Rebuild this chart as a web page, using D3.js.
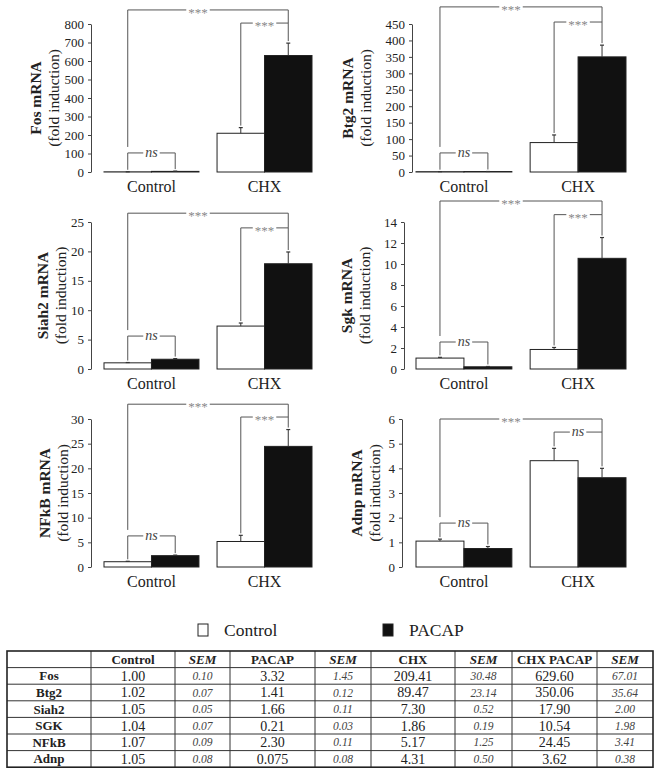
<!DOCTYPE html>
<html>
<head>
<meta charset="utf-8">
<script src="https://cdn.jsdelivr.net/npm/d3@7"></script>
<style>
  html, body { margin: 0; padding: 0; background: #fff; }
  svg { display: block; }
  svg text { font-family: "Liberation Serif", "Times New Roman", "DejaVu Serif", serif; fill: #222; }
</style>
</head>
<body>
<svg id="chart" width="663" height="776" font-family="Liberation Serif, serif"></svg>
<script>
// ---------------- DATA ----------------
const genes = ["Fos", "Btg2", "Siah2", "SGK", "NFkB", "Adnp"];
const panelTitles = ["Fos mRNA", "Btg2 mRNA", "Siah2 mRNA", "Sgk mRNA", "NFkB mRNA", "Adnp mRNA"];
const groups = ["Control", "CHX"];
const treatments = ["Control", "PACAP"];

const controlVals   = [1.00, 1.02, 1.05, 1.04, 1.07, 1.05];
const controlSem    = [0.10, 0.07, 0.05, 0.07, 0.09, 0.08];
const pacapVals     = [3.32, 1.41, 1.66, 0.21, 2.30, 0.75];
const pacapSem      = [1.45, 0.12, 0.11, 0.03, 0.11, 0.08];
const chxVals       = [209.41, 89.47, 7.30, 1.86, 5.17, 4.31];
const chxSem        = [30.48, 23.14, 0.52, 0.19, 1.25, 0.50];
const chxPacapVals  = [629.60, 350.06, 17.90, 10.54, 24.45, 3.62];
const chxPacapSem   = [67.01, 35.64, 2.00, 1.98, 3.41, 0.38];

// table cell text (as printed in the table)
const tableHeaders   = ["", "Control", "SEM", "PACAP", "SEM", "CHX", "SEM", "CHX PACAP", "SEM"];
const tableControl   = ["1.00", "1.02", "1.05", "1.04", "1.07", "1.05"];
const tableControlSem= ["0.10", "0.07", "0.05", "0.07", "0.09", "0.08"];
const tablePacap     = ["3.32", "1.41", "1.66", "0.21", "2.30", "0.075"];
const tablePacapSem  = ["1.45", "0.12", "0.11", "0.03", "0.11", "0.08"];
const tableChx       = ["209.41", "89.47", "7.30", "1.86", "5.17", "4.31"];
const tableChxSem    = ["30.48", "23.14", "0.52", "0.19", "1.25", "0.50"];
const tableChxPacap  = ["629.60", "350.06", "17.90", "10.54", "24.45", "3.62"];
const tableChxPacapSem = ["67.01", "35.64", "2.00", "1.98", "3.41", "0.38"];

// y axis tick settings
const yMax  = [800, 450, 25, 14, 30, 6];
const yStep = [100, 50, 5, 2, 5, 1];

// significance annotations (labels and bracket heights in data units)
const sigTopLabel  = ["***", "***", "***", "***", "***", "***"];
const sigChxLabel  = ["***", "***", "***", "***", "***", "ns"];
const sigCtrlLabel = ["ns", "ns", "ns", "ns", "ns", "ns"];
const bracketTop  = [876, 502, 26.5, 16.0, 33.0, 6.0];
const bracketChx  = [805, 456, 24.0, 14.7, 30.4, 5.47];
const bracketCtrl = [103, 58, 5.6, 2.57, 6.3, 1.78];

// ---------------- LAYOUT ----------------
const FONT = '"Liberation Serif", "Times New Roman", "DejaVu Serif", serif';
const rowsY   = [[172, 24], [369, 222], [567, 419]];
const axisX   = [91, 412, 91, 404, 91, 402];
const barRange = [[104, 312], [416, 626]];
const titleX  = [36, 348, 43, 347, 45, 357];

const svg = d3.select("#chart");
function txt(sel) { return sel.style("font-family", FONT); }

genes.forEach((g, i) => {
  const row = Math.floor(i / 2), col = i % 2;
  const [y0, y1] = rowsY[row];
  const y = d3.scaleLinear().domain([0, yMax[i]]).range([y0, y1]);
  const xg = d3.scaleBand().domain(groups).range(barRange[col]).paddingInner(0.16).paddingOuter(0);
  const xs = d3.scaleBand().domain(treatments).range([0, xg.bandwidth()]).padding(0);

  const bars = [
    { grp: "Control", tr: "Control", v: controlVals[i],  e: controlSem[i] },
    { grp: "Control", tr: "PACAP",   v: pacapVals[i],    e: pacapSem[i] },
    { grp: "CHX",     tr: "Control", v: chxVals[i],      e: chxSem[i] },
    { grp: "CHX",     tr: "PACAP",   v: chxPacapVals[i], e: chxPacapSem[i] }
  ];
  bars.forEach(b => {
    b.x = xg(b.grp) + xs(b.tr);
    b.w = xs.bandwidth();
    b.cx = b.x + b.w / 2;
    b.top = y(b.v + b.e);
  });

  const gp = svg.append("g");

  // y axis
  const ax = gp.append("g")
    .attr("transform", `translate(${axisX[i]},0)`)
    .call(d3.axisLeft(y)
      .tickValues(d3.range(0, yMax[i] + yStep[i] / 2, yStep[i]))
      .tickFormat(d3.format("d"))
      .tickSize(3).tickSizeOuter(0).tickPadding(4));
  ax.attr("font-family", FONT);
  ax.select(".domain").attr("stroke", "#444");
  ax.selectAll(".tick line").attr("stroke", "#444");
  ax.selectAll(".tick text").style("font-family", FONT).style("font-size", "13px").attr("fill", "#333");

  // bars
  gp.selectAll("rect.bar").data(bars).enter().append("rect")
    .attr("x", d => d.x).attr("width", d => d.w)
    .attr("y", d => y(d.v)).attr("height", d => y(0) - y(d.v))
    .attr("fill", d => d.tr === "PACAP" ? "#111" : "#fff")
    .attr("stroke", "#222").attr("stroke-width", 1);

  // error bars
  gp.selectAll("line.err").data(bars).enter().append("line")
    .attr("x1", d => d.cx).attr("x2", d => d.cx)
    .attr("y1", d => y(d.v)).attr("y2", d => d.top)
    .attr("stroke", "#333").attr("stroke-width", 1);
  gp.selectAll("line.cap").data(bars).enter().append("line")
    .attr("x1", d => d.cx - 2).attr("x2", d => d.cx + 2)
    .attr("y1", d => d.top).attr("y2", d => d.top)
    .attr("stroke", "#333").attr("stroke-width", 1.2);

  // x labels
  groups.forEach(gname => {
    txt(gp.append("text")).attr("x", xg(gname) + xg.bandwidth() / 2).attr("y", y0 + 20)
      .attr("text-anchor", "middle").style("font-size", "16px").text(gname);
  });

  // y title
  const tcy = (y0 + y1) / 2;
  txt(gp.append("text"))
    .attr("transform", `translate(${titleX[i]},${tcy}) rotate(-90)`)
    .attr("text-anchor", "middle").attr("dy", "0.35em")
    .style("font-size", "15.5px").style("font-weight", "bold").text(panelTitles[i]);
  txt(gp.append("text"))
    .attr("transform", `translate(${titleX[i] + 18},${tcy}) rotate(-90)`)
    .attr("text-anchor", "middle").attr("dy", "0.35em")
    .style("font-size", "15.5px").text("(fold induction)");

  // brackets
  const gap = 2;
  function bracket(xa, xb, yb, ya, yc, label, shift) {
    const mid = (xa + xb) / 2 + shift;
    const isNs = label === "ns";
    const t = txt(gp.append("text")).attr("x", mid).attr("y", yb).attr("dy", isNs ? "0.3em" : "0.55em")
      .attr("text-anchor", "middle")
      .style("font-size", isNs ? "14px" : "13px")
      .style("font-style", isNs ? "italic" : "normal")
      .style("fill", isNs ? "#444" : "#888")
      .text(label);
    const tw = t.node().getComputedTextLength();
    const path = d3.path();
    path.moveTo(xa, ya); path.lineTo(xa, yb); path.lineTo(mid - tw / 2 - 2, yb);
    path.moveTo(mid + tw / 2 + 2, yb); path.lineTo(xb, yb); path.lineTo(xb, yc);
    gp.append("path").attr("d", path.toString()).attr("fill", "none")
      .attr("stroke", "#555").attr("stroke-width", 1);
  }
  const yCtrl = y(bracketCtrl[i]), yChx = y(bracketChx[i]), yTop = y(bracketTop[i]);
  bracket(bars[0].cx, bars[1].cx, yCtrl, bars[0].top - gap, bars[1].top - gap, sigCtrlLabel[i], 0);
  bracket(bars[2].cx, bars[3].cx, yChx, bars[2].top - gap, bars[3].top - gap, sigChxLabel[i], 0);
  bracket(bars[0].cx, bars[3].cx, yTop, yCtrl - 6, yChx, sigTopLabel[i], -10);
});

// ---------------- LEGEND ----------------
const legendX = [198, 383];
const legendFill = ["#fff", "#111"];
const lg = svg.append("g");
treatments.forEach((name, k) => {
  lg.append("rect")
    .attr("x", legendX[k]).attr("y", 624).attr("width", 10).attr("height", 12)
    .attr("fill", legendFill[k]).attr("stroke", "#222").attr("stroke-width", 1);
  txt(lg.append("text"))
    .attr("x", legendX[k] + 26).attr("y", 636)
    .style("font-size", "17.5px").text(name);
});

// ---------------- TABLE ----------------
const colX = [7, 91, 175, 230, 315, 371, 455, 512, 597, 653];
const tTop = 651, rowH = 16.6;
const tableCols = [tableControl, tableControlSem, tablePacap, tablePacapSem, tableChx, tableChxSem, tableChxPacap, tableChxPacapSem];
const tg = svg.append("g");
const nRows = genes.length + 1;
const tBottom = tTop + nRows * rowH;

// header
tableHeaders.forEach((h, c) => {
  if (!h) return;
  txt(tg.append("text")).attr("x", (colX[c] + colX[c + 1]) / 2).attr("y", tTop + rowH / 2).attr("dy", "0.35em")
    .attr("text-anchor", "middle")
    .style("font-size", "13px").style("font-weight", "bold")
    .style("font-style", h === "SEM" ? "italic" : "normal").text(h);
});
genes.forEach((g, r) => {
  const cy = tTop + (r + 1) * rowH + rowH / 2;
  txt(tg.append("text")).attr("x", (colX[0] + colX[1]) / 2).attr("y", cy).attr("dy", "0.35em")
    .attr("text-anchor", "middle").style("font-size", "13px").style("font-weight", "bold").text(g);
  tableCols.forEach((arr, c) => {
    const isSem = c % 2 === 1;
    txt(tg.append("text")).attr("x", (colX[c + 1] + colX[c + 2]) / 2).attr("y", cy).attr("dy", "0.35em")
      .attr("text-anchor", "middle")
      .style("font-size", isSem ? "11.5px" : "14px")
      .style("font-style", isSem ? "italic" : "normal")
      .style("fill", isSem ? "#444" : "#222")
      .text(arr[r]);
  });
});
// grid lines
d3.range(1, nRows).forEach(r => {
  tg.append("line").attr("x1", colX[0]).attr("x2", colX[colX.length - 1])
    .attr("y1", tTop + r * rowH).attr("y2", tTop + r * rowH)
    .attr("stroke", "#333").attr("stroke-width", 1);
});
colX.slice(1, -1).forEach(x => {
  tg.append("line").attr("x1", x).attr("x2", x).attr("y1", tTop).attr("y2", tBottom)
    .attr("stroke", "#333").attr("stroke-width", 1);
});
tg.append("rect").attr("x", colX[0]).attr("y", tTop)
  .attr("width", colX[colX.length - 1] - colX[0]).attr("height", tBottom - tTop)
  .attr("fill", "none").attr("stroke", "#222").attr("stroke-width", 1.6);
</script>
</body>
</html>
